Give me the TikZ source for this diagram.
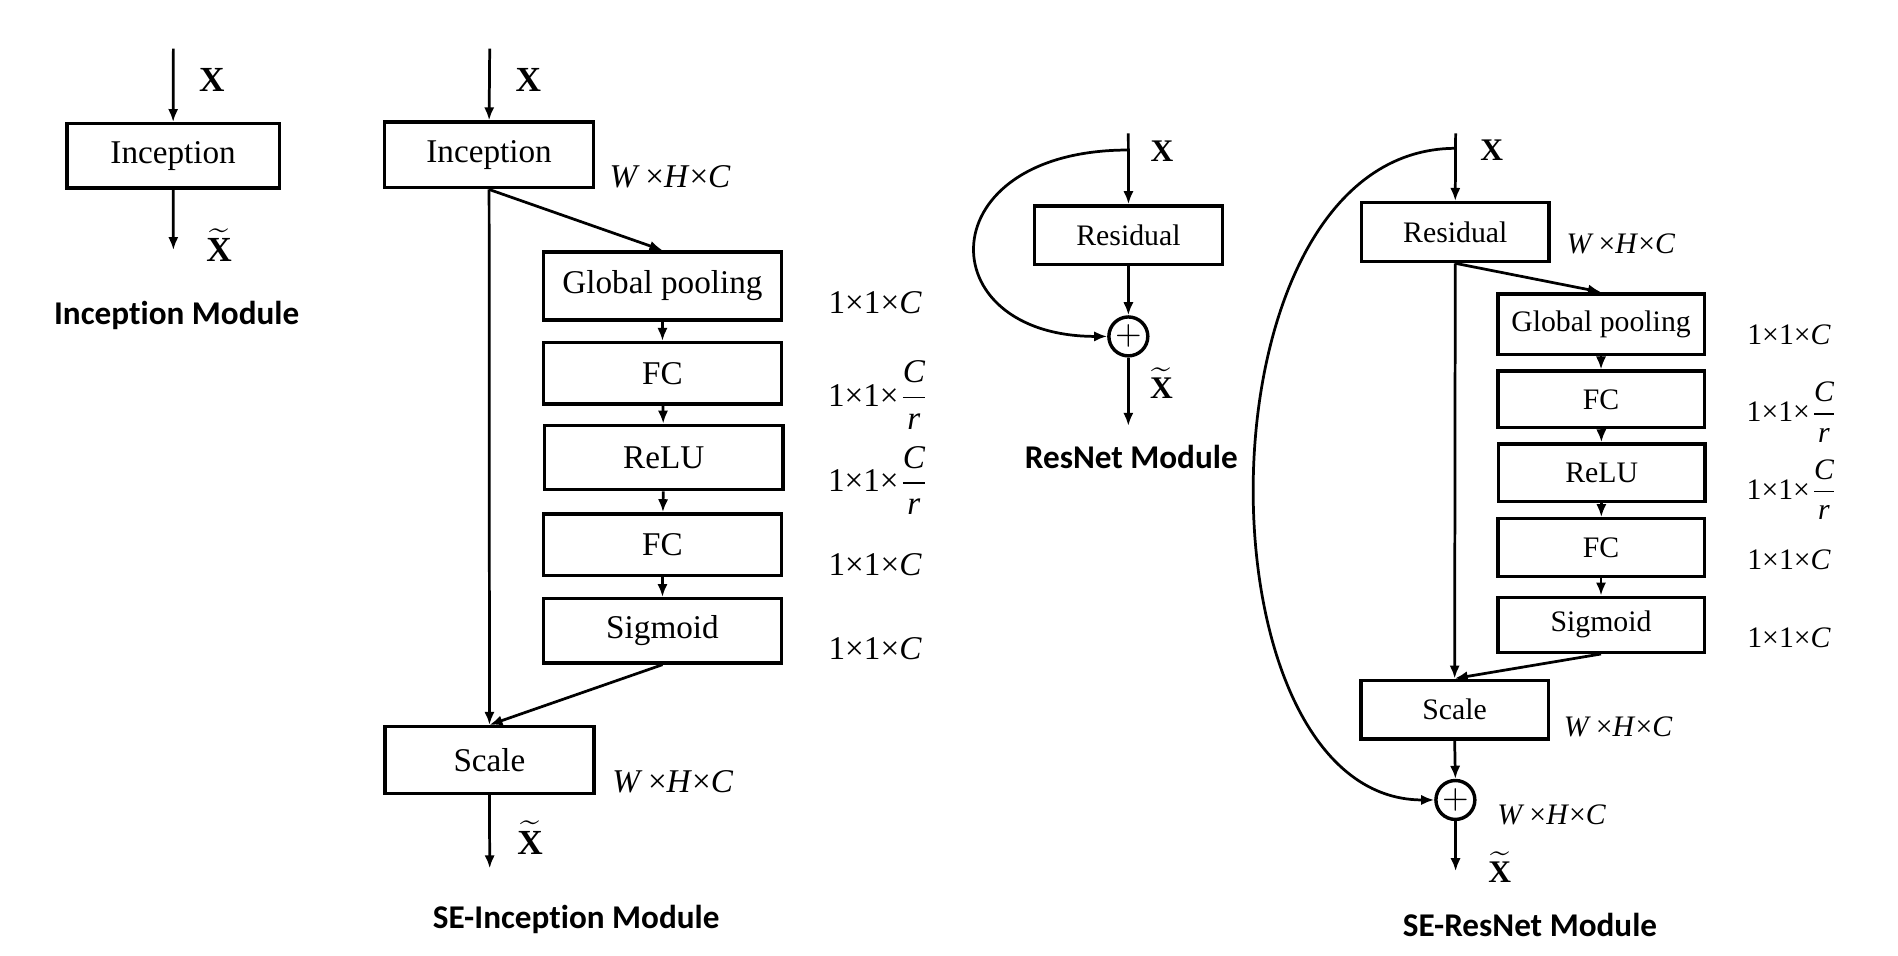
\documentclass[tikz,border=0pt]{standalone}
\usepackage{fontspec}
\setmainfont{Liberation Serif}
\newfontfamily\carl{Carlito}[Ligatures=NoCommon]
\usetikzlibrary{arrows.meta}

\newcommand{\whc}{\textit{W}\,×\textit{H}×\textit{C}}
\newcommand{\ooc}{1×1×\textit{C}}
\newcommand{\oocr}{1×1×$\displaystyle\frac{\textit{C}}{\textit{r}}$}
\newcommand{\xin}{\textbf{X}}
\newcommand{\xout}{$\widetilde{\textbf{X}}$}

\begin{document}
\begin{tikzpicture}[x=0.0125cm, y=-0.0125cm,
  blk/.style={draw, line width=1pt, inner sep=0pt, font=\fontsize{9.7}{11}\selectfont},
  sblk/.style={blk, font=\fontsize{8.7}{10}\selectfont},
  addop/.style={draw, circle, line width=1pt, inner sep=0pt, minimum size=0.4cm},
  flow/.style={line width=0.8pt, -{Latex[length=3.8pt,width=3pt]}},
  dim/.style={anchor=west, inner sep=0pt, font=\fontsize{9.7}{11}\selectfont},
  sdim/.style={anchor=west, inner sep=0pt, font=\fontsize{8.7}{10}\selectfont},
  var/.style={anchor=base, inner sep=0pt, font=\fontsize{10.3}{12}\selectfont},
  svar/.style={anchor=base, inner sep=0pt, font=\fontsize{9.2}{11}\selectfont},
  title/.style={anchor=base, inner sep=0pt, font=\carl\bfseries\fontsize{9.7}{11}\selectfont}]

  \useasboundingbox (0,0) rectangle (1560,785.7);

  % Inception module
  \coordinate (in1) at (142.5,40);
  \coordinate (out1) at (142.5,205.5);
  \node[blk, minimum width=2.18cm, minimum height=0.66cm] (inc) at (142.3,128.1) {Inception};
  \draw[flow] (in1) -- (inc.north);
  \draw[flow] (inc.south) -- (out1);
  \node[var] (x1) at (174.1,75.2) {\xin};
  \node[var] (xt1) at (180,215) {\xout};
  \node[title] (t1) at (145.2,267.1) {Inception Module};

  % SE-Inception module
  \coordinate (in2) at (402.5,40);
  \coordinate (out2) at (402.5,713.7);
  \node[blk, minimum width=2.15cm, minimum height=0.675cm] (seinc) at (402,127.3) {Inception};
  \node[blk, minimum width=2.45cm, minimum height=0.7cm] (gp1) at (544.5,235.1) {Global pooling};
  \node[blk, minimum width=2.45cm, minimum height=0.63cm] (fc1a) at (544.5,306.8) {FC};
  \node[blk, minimum width=2.45cm, minimum height=0.66cm] (relu1) at (545.5,376) {ReLU};
  \node[blk, minimum width=2.45cm, minimum height=0.63cm] (fc1b) at (544.5,447.6) {FC};
  \node[blk, minimum width=2.45cm, minimum height=0.66cm] (sig1) at (544.5,518.5) {Sigmoid};
  \node[blk, minimum width=2.15cm, minimum height=0.685cm] (scale1) at (402.3,624.6) {Scale};
  \draw[flow] (in2) -- (seinc.north);
  \draw[flow] (seinc.south) -- (scale1.north);
  \draw[flow] (seinc.south) -- (gp1.north);
  \draw[flow] (gp1) -- (fc1a);
  \draw[flow] (fc1a) -- (relu1);
  \draw[flow] (relu1) -- (fc1b);
  \draw[flow] (fc1b) -- (sig1);
  \draw[flow] (sig1.south) -- (scale1.north);
  \draw[flow] (scale1.south) -- (out2);
  \node[var] (x2) at (434.3,75.2) {\xin};
  \node[var] (xt2) at (435.6,702) {\xout};
  \node[dim] at (500.5,145.4) {\whc};
  \node[dim] at (680.5,249) {\ooc};
  \node[dim] at (680,324.8) {\oocr};
  \node[dim] at (680,395) {\oocr};
  \node[dim] at (680.5,463.7) {\ooc};
  \node[dim] at (680.5,532.8) {\ooc};
  \node[dim] at (502.7,642.5) {\whc};
  \node[title] (t2) at (473.6,763.2) {SE-Inception Module};

  % ResNet module
  \coordinate (in3) at (927.4,109.6);
  \coordinate (sk1) at (927.4,123.3);
  \coordinate (out3) at (927.4,350);
  \node[sblk, minimum width=1.935cm, minimum height=0.6cm] (res1) at (927.5,193.2) {Residual};
  \node[addop] (plus1) at (927.4,276.5) {$+$};
  \draw[flow] (in3) -- (res1.north);
  \draw[flow] (res1.south) -- (plus1.north);
  \draw[flow] (sk1) .. controls (762.5,123.3) and (762.5,276.5) .. (plus1.west);
  \draw[flow] (plus1.south) -- (out3);
  \node[svar] (x3) at (955,132.9) {\xin};
  \node[svar] (xt3) at (954.6,327.5) {\xout};
  \node[title] (t3) at (929.8,385) {ResNet Module};

  % SE-ResNet module
  \coordinate (in4) at (1196.4,109.6);
  \coordinate (sk2) at (1196.4,121.9);
  \coordinate (out4) at (1196.4,716);
  \node[sblk, minimum width=1.925cm, minimum height=0.605cm] (res2) at (1196.1,190.8) {Residual};
  \node[sblk, minimum width=2.12cm, minimum height=0.625cm] (gp2) at (1315.9,266.5) {Global pooling};
  \node[sblk, minimum width=2.12cm, minimum height=0.58cm] (fc2a) at (1315.9,328.3) {FC};
  \node[sblk, minimum width=2.12cm, minimum height=0.59cm] (relu2) at (1316.4,388.5) {ReLU};
  \node[sblk, minimum width=2.12cm, minimum height=0.59cm] (fc2b) at (1315.9,450) {FC};
  \node[sblk, minimum width=2.12cm, minimum height=0.565cm] (sig2) at (1315.9,513.5) {Sigmoid};
  \node[sblk, minimum width=1.925cm, minimum height=0.605cm] (scale2) at (1195.6,583.3) {Scale};
  \node[addop] (plus2) at (1196.2,657.5) {$+$};
  \draw[flow] (in4) -- (res2.north);
  \draw[flow] (res2.south) -- (scale2.north);
  \draw[flow] (res2.south) -- (gp2.north);
  \draw[flow] (gp2) -- (fc2a);
  \draw[flow] (fc2a) -- (relu2);
  \draw[flow] (relu2) -- (fc2b);
  \draw[flow] (fc2b) -- (sig2);
  \draw[flow] (sig2.south) -- (scale2.north);
  \draw[flow] (scale2.south) -- (plus2.north);
  \draw[flow] (sk2) .. controls (979.3,121.9) and (979.3,657.5) .. (plus2.west);
  \draw[flow] (plus2.south) -- (out4);
  \node[svar] (x4) at (1226,132) {\xin};
  \node[svar] (xt4) at (1232.6,725) {\xout};
  \node[sdim] at (1287.1,200.5) {\whc};
  \node[sdim] at (1435.6,275.3) {\ooc};
  \node[sdim] at (1435,339) {\oocr};
  \node[sdim] at (1435,402.5) {\oocr};
  \node[sdim] at (1435.6,460) {\ooc};
  \node[sdim] at (1435.6,524) {\ooc};
  \node[sdim] at (1284.8,597.5) {\whc};
  \node[sdim] at (1230.2,670) {\whc};
  \node[title] (t4) at (1257.5,770) {SE-ResNet Module};

\end{tikzpicture}
\end{document}
